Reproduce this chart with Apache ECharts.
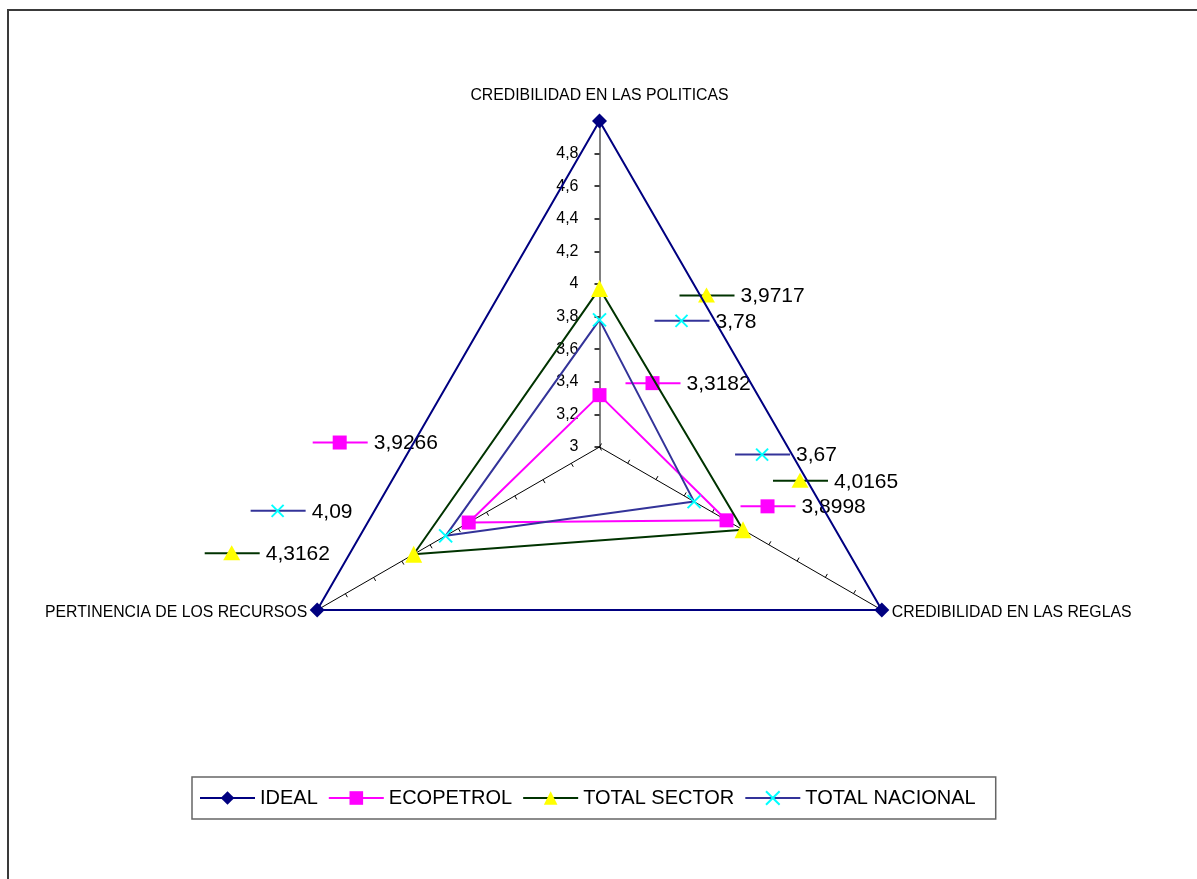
<!DOCTYPE html>
<html><head><meta charset="utf-8">
<script src="https://cdn.jsdelivr.net/npm/echarts@6/dist/echarts.min.js"></script>
<style>
html,body{margin:0;padding:0;background:#fff;overflow:hidden}
#c{position:absolute;left:0;top:0;width:1197px;height:879px}
#frame{position:absolute;left:7px;top:9px;width:1400px;height:1000px;border-left:2px solid #3a3a3a;border-top:2px solid #3a3a3a;pointer-events:none}
</style></head>
<body><div id="c"></div><div id="frame"></div>
<script>
// ---- data ----
const indicatorNames = ['CREDIBILIDAD EN LAS POLITICAS', 'CREDIBILIDAD EN LAS REGLAS', 'PERTINENCIA DE LOS RECURSOS'];
const axisMin = 3;
const axisMax = 5;
const seriesNames = ['IDEAL', 'ECOPETROL', 'TOTAL SECTOR', 'TOTAL NACIONAL'];
const ideal = [5, 5, 5];
const ecopetrol = [3.3182, 3.8998, 3.9266];
const totalSector = [3.9717, 4.0165, 4.3162];
const totalNacional = [3.78, 3.67, 4.09];
const seriesValues = [ideal, ecopetrol, totalSector, totalNacional];

// ---- styles ----
const FONT = '"Liberation Sans", Arial, sans-serif';
const styles = [
  {line: '#000080', fill: '#000080', symbol: 'diamond', size: 15},
  {line: '#FF00FF', fill: '#FF00FF', symbol: 'rect', size: 14},
  {line: '#003300', fill: '#FFFF00', symbol: 'triangle', size: 17},
  {line: '#333399', fill: '#00FFFF', symbol: 'path://M0,0L10,10M10,0L0,10', size: 13, x: true}
];
// Excel draws the radar clockwise, ECharts counter-clockwise: reorder indicators
const drawOrder = [0, 2, 1];
// label offsets (marker centre relative to the data point), per series per indicator (source order)
const labelOffsets = [
  null,
  [[53, -12], [41, -14], [-129, -80]],
  [[107, 7], [57, -49], [-182, -1]],
  [[82, 1], [68, -47], [-168, -25]]
];
const nameOffsets = [[0, -25, 'center'], [10, 3, 'left'], [-10, 3, 'right']];

const fmt = v => String(+(+v).toFixed(4)).replace('.', ',');

const chart = echarts.init(document.getElementById('c'), null, {renderer: 'canvas'});

const indicators = drawOrder.map((src, k) => {
  const ind = {name: indicatorNames[src], min: axisMin, max: axisMax};
  if (k === 0) {
    ind.axisLine = {lineStyle: {color: '#808080', width: 2}};
    ind.axisTick = {length: 5, lineStyle: {color: '#000', width: 1.5}};
    ind.axisLabel = {show: true};
  }
  return ind;
});

const radarSeries = seriesNames.map((name, s) => ({
  type: 'radar',
  name: name,
  symbol: styles[s].symbol,
  symbolSize: styles[s].size,
  itemStyle: styles[s].x
    ? {color: styles[s].fill, borderColor: styles[s].fill, borderWidth: 2}
    : {color: styles[s].fill, borderWidth: 0},
  lineStyle: {color: styles[s].line, width: 2},
  emphasis: {disabled: true},
  z: 3 + s,
  data: [{name: name, value: drawOrder.map(i => seriesValues[s][i])}]
}));

// helper line series (no data) that only provide Excel-like legend keys
const legendSeries = seriesNames.map((name, s) => ({
  type: 'line',
  name: name,
  xAxisIndex: 0, yAxisIndex: 0,
  symbol: styles[s].symbol,
  symbolSize: styles[s].size,
  itemStyle: styles[s].x
    ? {color: styles[s].fill, borderColor: styles[s].fill, borderWidth: 2}
    : {color: styles[s].fill, borderWidth: 0},
  lineStyle: {color: styles[s].line, width: 2},
  data: []
}));

const option = {
  backgroundColor: '#fff',
  animation: false,
  textStyle: {fontFamily: FONT},
  grid: {show: false, left: -50, top: -50, width: 10, height: 10},
  xAxis: {show: false, type: 'value'},
  yAxis: {show: false, type: 'value'},
  legend: {
    left: 192, top: 777,
    padding: [11, 20, 11, 7],
    itemGap: 10,
    itemWidth: 55, itemHeight: 17,
    borderColor: '#666', borderWidth: 1.5,
    selectedMode: false,
    textStyle: {fontSize: 20, color: '#000', fontFamily: FONT},
    data: seriesNames.map((n, s) => ({
      name: n,
      itemStyle: styles[s].x ? {borderColor: styles[s].fill, borderWidth: 2} : {borderWidth: 0}
    }))
  },
  radar: {
    center: [599.5, 447],
    radius: 326,
    startAngle: 90,
    shape: 'polygon',
    splitNumber: 10,
    indicator: indicators,
    axisName: {show: false},
    splitLine: {show: false},
    splitArea: {show: false},
    axisLine: {show: true, lineStyle: {color: '#000', width: 1}},
    axisTick: {show: true, length: 4, lineStyle: {color: '#000', width: 1}},
    axisLabel: {
      show: false, showMaxLabel: false, margin: 21,
      fontSize: 16, color: '#000', fontFamily: FONT,
      formatter: v => fmt(v)
    }
  },
  series: legendSeries.concat(radarSeries)
};
chart.setOption(option);

// ---- data labels and indicator names placed via the radar coordinate system ----
const cs = chart.getModel().getComponent('radar').coordinateSystem;
const graphics = [];
indicatorNames.forEach((nm, src) => {
  const k = drawOrder.indexOf(src);
  const p = cs.dataToPoint(axisMax, k);
  const o = nameOffsets[src];
  graphics.push({
    type: 'text', x: p[0] + o[0], y: p[1] + o[1], z: 20,
    style: {text: nm, fill: '#000', font: '15.8px ' + FONT, align: o[2], verticalAlign: 'middle'}
  });
});
function markerEls(s, col) {
  const st = styles[s];
  if (st.symbol === 'rect') return [{type: 'rect', shape: {x: -7, y: -7, width: 14, height: 14}, style: {fill: col}}];
  if (st.symbol === 'triangle') return [{type: 'polygon', shape: {points: [[0, -8], [8.5, 7], [-8.5, 7]]}, style: {fill: col}}];
  if (st.x) return [
    {type: 'line', shape: {x1: -6, y1: -6, x2: 6, y2: 6}, style: {stroke: col, lineWidth: 2}},
    {type: 'line', shape: {x1: 6, y1: -6, x2: -6, y2: 6}, style: {stroke: col, lineWidth: 2}}
  ];
  return [];
}
seriesValues.forEach((vals, s) => {
  if (!labelOffsets[s]) return;
  vals.forEach((v, src) => {
    const k = drawOrder.indexOf(src);
    const p = cs.dataToPoint(v, k);
    const o = labelOffsets[s][src];
    graphics.push({
      type: 'group', x: p[0] + o[0], y: p[1] + o[1], z: 30,
      children: [
        {type: 'line', shape: {x1: -27, y1: 0, x2: 28, y2: 0}, style: {stroke: styles[s].line, lineWidth: 2}}
      ].concat(markerEls(s, styles[s].fill)).concat([
        {type: 'text', x: 34, y: 1, style: {text: fmt(v), fill: '#000', font: '21px ' + FONT, align: 'left', verticalAlign: 'middle'}}
      ])
    });
  });
});
chart.setOption({graphic: graphics});
</script>
</body></html>
